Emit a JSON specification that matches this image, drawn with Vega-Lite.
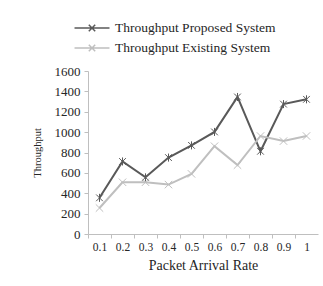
{
  "$schema": "https://vega.github.io/schema/vega-lite/v6.json",
  "autosize": {"type": "none"},
  "width": 230,
  "height": 163,
  "padding": {"left": 88, "top": 71, "right": 5, "bottom": 52},
  "background": "white",
  "config": {
    "view": {"stroke": null},
    "font": "Liberation Serif",
    "axis": {"grid": false, "domainColor": "#bfbfbf", "tickColor": "#bfbfbf", "labelColor": "#262626", "titleColor": "#262626", "labelFont": "Liberation Serif", "titleFont": "Liberation Serif", "titleFontWeight": "normal"}
  },
  "data": {
    "values": [
      {"rate": "0.1", "series": "Throughput Proposed System", "value": 355},
      {"rate": "0.2", "series": "Throughput Proposed System", "value": 712},
      {"rate": "0.3", "series": "Throughput Proposed System", "value": 556},
      {"rate": "0.4", "series": "Throughput Proposed System", "value": 750},
      {"rate": "0.5", "series": "Throughput Proposed System", "value": 870},
      {"rate": "0.6", "series": "Throughput Proposed System", "value": 1002},
      {"rate": "0.7", "series": "Throughput Proposed System", "value": 1345},
      {"rate": "0.8", "series": "Throughput Proposed System", "value": 812},
      {"rate": "0.9", "series": "Throughput Proposed System", "value": 1275},
      {"rate": "1", "series": "Throughput Proposed System", "value": 1322},
      {"rate": "0.1", "series": "Throughput Existing System", "value": 255},
      {"rate": "0.2", "series": "Throughput Existing System", "value": 508},
      {"rate": "0.3", "series": "Throughput Existing System", "value": 508},
      {"rate": "0.4", "series": "Throughput Existing System", "value": 485},
      {"rate": "0.5", "series": "Throughput Existing System", "value": 590},
      {"rate": "0.6", "series": "Throughput Existing System", "value": 862},
      {"rate": "0.7", "series": "Throughput Existing System", "value": 676},
      {"rate": "0.8", "series": "Throughput Existing System", "value": 962},
      {"rate": "0.9", "series": "Throughput Existing System", "value": 912},
      {"rate": "1", "series": "Throughput Existing System", "value": 962}
    ]
  },
  "encoding": {
    "x": {
      "field": "rate", "type": "ordinal", "sort": null,
      "scale": {"type": "point", "padding": 0.5},
      "axis": {"title": "Packet Arrival Rate", "labelAngle": 0, "labelFontSize": 11.5, "titleFontSize": 14, "tickSize": 4, "labelPadding": 3, "titlePadding": 6, "tickOffset": -11.5, "labelOffset": 11.5}
    },
    "y": {
      "field": "value", "type": "quantitative",
      "scale": {"domain": [0, 1600], "nice": false},
      "axis": {"title": "Throughput", "format": "d", "values": [0, 200, 400, 600, 800, 1000, 1200, 1400, 1600], "labelFontSize": 13, "titleFontSize": 10.5, "tickSize": 4, "labelPadding": 4, "titlePadding": 12}
    },
    "color": {
      "field": "series", "type": "nominal",
      "sort": ["Throughput Proposed System", "Throughput Existing System"],
      "scale": {"domain": ["Throughput Proposed System", "Throughput Existing System"], "range": ["#595959", "#bfbfbf"]}
    }
  },
  "layer": [
    {
      "mark": {"type": "line", "strokeWidth": 2},
      "encoding": {
        "color": {
          "field": "series", "type": "nominal",
          "sort": ["Throughput Proposed System", "Throughput Existing System"],
          "scale": {"domain": ["Throughput Proposed System", "Throughput Existing System"], "range": ["#595959", "#bfbfbf"]},
          "legend": {
            "title": null, "orient": "none", "legendX": -3, "legendY": -50, "direction": "vertical", "padding": 0,
            "symbolType": "M-3,0H3M-0.55,-0.55L0.55,0.55M-0.55,0.55L0.55,-0.55",
            "symbolSize": 136, "symbolStrokeWidth": 1.5, "labelFontSize": 13.5, "labelFont": "Liberation Serif", "labelColor": "#262626", "labelOffset": 16, "rowPadding": 6, "labelLimit": 300
          }
        }
      }
    },
    {
      "transform": [{"filter": "datum.series === 'Throughput Proposed System'"}],
      "mark": {"type": "point", "filled": false, "strokeWidth": 1, "size": 45, "opacity": 1, "shape": "M-1,-1L1,1M-1,1L1,-1M0,-1.2L0,1.2"}
    },
    {
      "transform": [{"filter": "datum.series === 'Throughput Existing System'"}],
      "mark": {"type": "point", "filled": false, "strokeWidth": 1, "size": 55, "opacity": 1, "shape": "M-1,-1L1,1M-1,1L1,-1"}
    }
  ]
}
